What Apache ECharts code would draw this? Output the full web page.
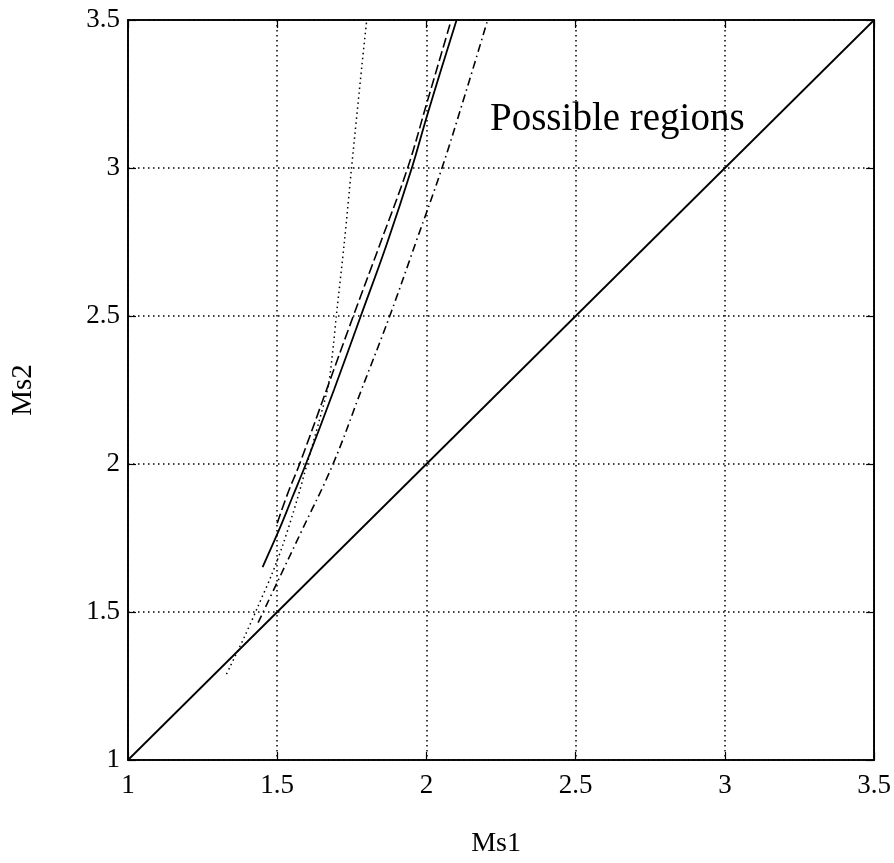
<!DOCTYPE html>
<html>
<head>
<meta charset="utf-8">
<script src="https://cdn.jsdelivr.net/npm/echarts@6/dist/echarts.min.js"></script>
<style>
html,body{margin:0;padding:0;background:#fff;}
#chart{width:894px;height:863px;}
</style>
</head>
<body>
<div id="chart"></div>
<script>
// ---- data ----
const xTickValues = [1, 1.5, 2, 2.5, 3, 3.5];
const xTickLabels = ['1', '1.5', '2', '2.5', '3', '3.5'];
const yTickValues = [1, 1.5, 2, 2.5, 3, 3.5];
const yTickLabels = ['1', '1.5', '2', '2.5', '3', '3.5'];

const diagX = [1, 3.5];
const diagY = [1, 3.5];

const solidX = [1.451, 1.509, 1.55, 1.596, 1.69, 1.78, 1.866, 1.951, 2.0, 2.05, 2.101];
const solidY = [1.652, 1.784, 1.886, 2.0, 2.25, 2.5, 2.74, 3.0, 3.17, 3.335, 3.5];

const dashedX = [1.500, 1.535, 1.575, 1.665, 1.755, 1.847, 1.937, 2.0, 2.083];
const dashedY = [1.800, 1.90, 2.0, 2.25, 2.5, 2.75, 3.0, 3.215, 3.5];

const dashDotX = [1.436, 1.5, 1.58, 1.687, 1.782, 1.877, 1.965, 2.052, 2.13, 2.205];
const dashDotY = [1.464, 1.60, 1.77, 2.0, 2.25, 2.5, 2.75, 3.0, 3.25, 3.5];

const dottedX = [1.33, 1.341, 1.392, 1.436, 1.481, 1.520, 1.565, 1.60, 1.643, 1.672, 1.688, 1.698, 1.725, 1.749, 1.784, 1.80];
const dottedY = [1.29, 1.313, 1.42, 1.52, 1.625, 1.73, 1.874, 2.0, 2.154, 2.27, 2.40, 2.5, 2.75, 3.0, 3.349, 3.5];

const annotationText = 'Possible regions';
const xAxisName = 'Ms1';
const yAxisName = 'Ms2';

// ---- chart ----
const zip = (xs, ys) => xs.map((x, i) => [x, ys[i]]);
const FONT = "'Liberation Serif', 'DejaVu Serif', serif";
const labelFor = (vals, labels) => v => {
  const i = vals.findIndex(t => Math.abs(t - v) < 1e-9);
  return i >= 0 ? labels[i] : '';
};

const chart = echarts.init(document.getElementById('chart'), null, {renderer: 'canvas'});

const gridLine = {show: true, lineStyle: {color: '#000', width: 1.5, type: [1.5, 3.5]}};
const commonAxis = {
  type: 'value', min: 1, max: 3.5, interval: 0.5,
  axisLine: {show: true, onZero: false, lineStyle: {color: '#000', width: 1.6}},
  axisTick: {show: true, inside: true, length: 8, lineStyle: {color: '#000', width: 1.2}}
};

chart.setOption({
  animation: false,
  backgroundColor: '#fff',
  grid: {left: 128, right: 19, top: 20, bottom: 100, show: true, borderColor: '#000', borderWidth: 1.6},
  xAxis: [
    Object.assign({}, commonAxis, {
      position: 'bottom',
      name: xAxisName, nameLocation: 'middle', nameGap: 70,
      nameTextStyle: {fontFamily: FONT, fontSize: 28, color: '#000', padding: [0, 10, 0, 0]},
      splitLine: gridLine,
      axisLabel: {margin: 12, fontFamily: FONT, fontSize: 27, color: '#000',
        formatter: labelFor(xTickValues, xTickLabels)}
    }),
    Object.assign({}, commonAxis, {
      position: 'top', splitLine: {show: false}, axisLabel: {show: false}
    })
  ],
  yAxis: [
    Object.assign({}, commonAxis, {
      position: 'left',
      name: yAxisName, nameLocation: 'middle', nameGap: 90, nameRotate: 90,
      nameTextStyle: {fontFamily: FONT, fontSize: 29, color: '#000'},
      splitLine: gridLine,
      axisLabel: {margin: 8, fontFamily: FONT, fontSize: 27, color: '#000',
        formatter: labelFor(yTickValues, yTickLabels)}
    }),
    Object.assign({}, commonAxis, {
      position: 'right', splitLine: {show: false}, axisLabel: {show: false}
    })
  ],
  graphic: [{
    type: 'text', left: 490, top: 100, silent: true,
    style: {text: annotationText, font: "39px " + FONT, fill: '#000'}
  }],
  series: [
    {type: 'line', data: zip(diagX, diagY), showSymbol: false, lineStyle: {color: '#000', width: 1.8}},
    {type: 'line', data: zip(solidX, solidY), showSymbol: false, smooth: 0.4, lineStyle: {color: '#000', width: 1.8}},
    {type: 'line', data: zip(dashedX, dashedY), showSymbol: false, smooth: 0.4, lineStyle: {color: '#000', width: 1.6, type: [10, 4]}},
    {type: 'line', data: zip(dashDotX, dashDotY), showSymbol: false, smooth: 0.4, lineStyle: {color: '#000', width: 1.6, type: [8, 4, 1.5, 4]}},
    {type: 'line', data: zip(dottedX, dottedY), showSymbol: false, smooth: 0.3, lineStyle: {color: '#000', width: 1.5, type: [1.5, 3.5]}}
  ]
});
</script>
</body>
</html>
